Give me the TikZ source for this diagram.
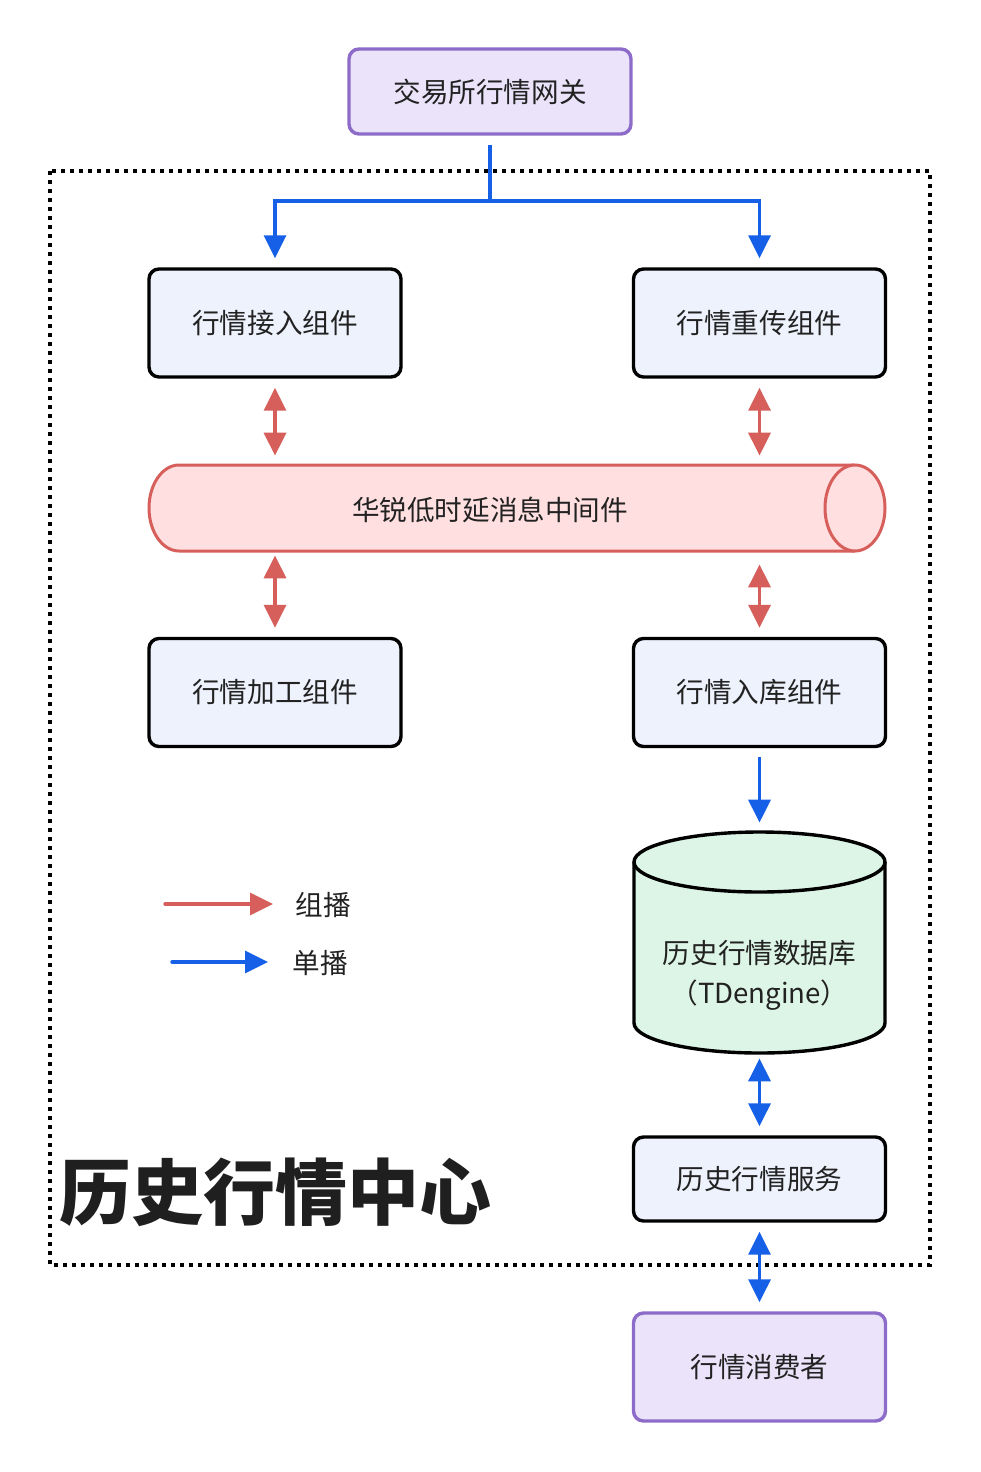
\documentclass[tikz,border=0pt]{standalone}
\usepackage{fontspec}
\setmainfont{Noto Sans CJK SC}
\usetikzlibrary{arrows.meta}
\definecolor{purplefill}{HTML}{EAE3FA}
\definecolor{purpledraw}{HTML}{8C6CC8}
\definecolor{boxfill}{HTML}{EEF2FD}
\definecolor{pinkfill}{HTML}{FFDFDF}
\definecolor{reddraw}{HTML}{D65F5C}
\definecolor{greenfill}{HTML}{DDF5E6}
\definecolor{blueline}{HTML}{1660E8}
\definecolor{txt}{HTML}{222222}
\tikzset{
  base/.style={rectangle, rounded corners=5pt, line width=1.7pt, minimum width=126pt, minimum height=54pt, font=\fontsize{13.8}{16}\selectfont, text=txt},
  endbox/.style={base, draw=purpledraw, fill=purplefill},
  compbox/.style={base, draw=black, fill=boxfill},
  tip/.style={Triangle[width=11pt,length=11.5pt]},
  blue arrow/.style={draw=blueline, line width=1.7pt, -{Triangle[width=11pt,length=11.5pt]}},
  blue both/.style={draw=blueline, line width=1.7pt, {Triangle[width=11pt,length=11.5pt]}-{Triangle[width=11pt,length=11.5pt]}},
  red both/.style={draw=reddraw, line width=1.7pt, {Triangle[width=11pt,length=11.5pt]}-{Triangle[width=11pt,length=11.5pt]}},
  red arrow/.style={draw=reddraw, line width=1.7pt, -{Triangle[width=11pt,length=11.5pt]}},
  gap/.style={shorten <=4.5pt, shorten >=4.5pt},
  plain/.style={font=\fontsize{13.8}{16}\selectfont, text=txt, inner sep=0pt}
}
\begin{document}
\begin{tikzpicture}[x=0.5pt,y=-0.5pt]
\useasboundingbox (0,0) rectangle (980,1472);
\fill[white] (0,0) rectangle (980,1472);

% dotted frame
\draw[line width=1.8pt, dash pattern=on 1.8pt off 2.7pt] (50,171) rectangle (930,1265);

% top gateway
\node[endbox, minimum height=42.5pt, minimum width=141pt] (gw) at (490,91.5) {交易所行情网关};

% component boxes
\node[compbox] (in) at (275,323) {行情接入组件};
\node[compbox] (re) at (759.5,323) {行情重传组件};
\node[compbox] (proc) at (275,692.5) {行情加工组件};
\node[compbox] (store) at (759.5,692.5) {行情入库组件};

% middleware cylinder (horizontal)
\fill[pinkfill] (179,465) -- (855,465) arc[start angle=90,end angle=-90,x radius=15pt,y radius=21.5pt] -- (179,551) arc[start angle=270,end angle=90,x radius=15pt,y radius=21.5pt] -- cycle;
\draw[reddraw, line width=1.5pt] (855,465) -- (179,465) arc[start angle=90,end angle=270,x radius=15pt,y radius=21.5pt] -- (855,551);
\draw[reddraw, line width=1.5pt, fill=pinkfill] (855,508) ellipse[x radius=15pt, y radius=21.5pt];
\node[rectangle, minimum width=368pt, minimum height=43pt, inner sep=0pt] (mw) at (517,508) {};
\node[plain] (mwlabel) at (490,510) {华锐低时延消息中间件};

% database cylinder (vertical)
\fill[greenfill] (634,862) -- (634,1023) arc[start angle=180,end angle=360,x radius=62.75pt,y radius=15pt] -- (885,862) arc[start angle=0,end angle=180,x radius=62.75pt,y radius=15pt] -- cycle;
\draw[black, line width=1.7pt] (885,862) -- (885,1023) arc[start angle=360,end angle=180,x radius=62.75pt,y radius=15pt] -- (634,862);
\draw[black, line width=1.7pt, fill=greenfill] (759.5,862) ellipse[x radius=62.75pt, y radius=15pt];
\node[rectangle, minimum width=126pt, minimum height=110.5pt, inner sep=0pt] (db) at (759.5,942.5) {};
\node[plain, align=center, font=\fontsize{13.8}{20}\selectfont] (dblabel) at (759.5,975) {历史行情数据库\\（TDengine）};

% history service and consumer
\node[compbox, minimum height=42pt] (svc) at (759.5,1179) {历史行情服务};
\node[endbox] (cons) at (759.5,1367) {行情消费者};

% title
\node[anchor=west, inner sep=0pt, font=\fontsize{36}{40}\bfseries, text=black!88] (title) at (59,1192) {历史行情中心};

% blue tree from gateway
\coordinate (split) at (490,201);
\draw[draw=blueline, line width=1.7pt, shorten <=4.5pt] (gw.south) -- (split);
\draw[blue arrow, shorten >=4.5pt] (split) -| (in.north);
\draw[blue arrow, shorten >=4.5pt] (split) -| (re.north);

% red multicast arrows
\draw[red both, gap] (in.south) -- (in.south |- mw.north);
\draw[red both, gap] (re.south) -- (re.south |- mw.north);
\draw[red both, shorten <=2pt, shorten >=4.5pt] (proc.north |- mw.south) -- (proc.north);
\draw[red both, shorten <=4.5pt, shorten >=4.5pt] ([yshift=-2pt]store.north |- mw.south) -- (store.north);

% blue unicast arrows
\draw[blue arrow, gap] (store.south) -- (db.north);
\draw[blue both, shorten <=2.5pt, shorten >=4.5pt] (db.south) -- (svc.north);
\draw[blue both, gap] (svc.south) -- (cons.north);

% legend
\coordinate (l1a) at (165,904);
\coordinate (l1b) at (273,904);
\coordinate (l2a) at (172,962);
\coordinate (l2b) at (268,962);
\draw[red arrow, line cap=round] (l1a) -- (l1b);
\draw[blue arrow, line cap=round] (l2a) -- (l2b);
\node[plain, anchor=west] (leg1) at (295,905) {组播};
\node[plain, anchor=west] (leg2) at (292,963) {单播};
\end{tikzpicture}
\end{document}
